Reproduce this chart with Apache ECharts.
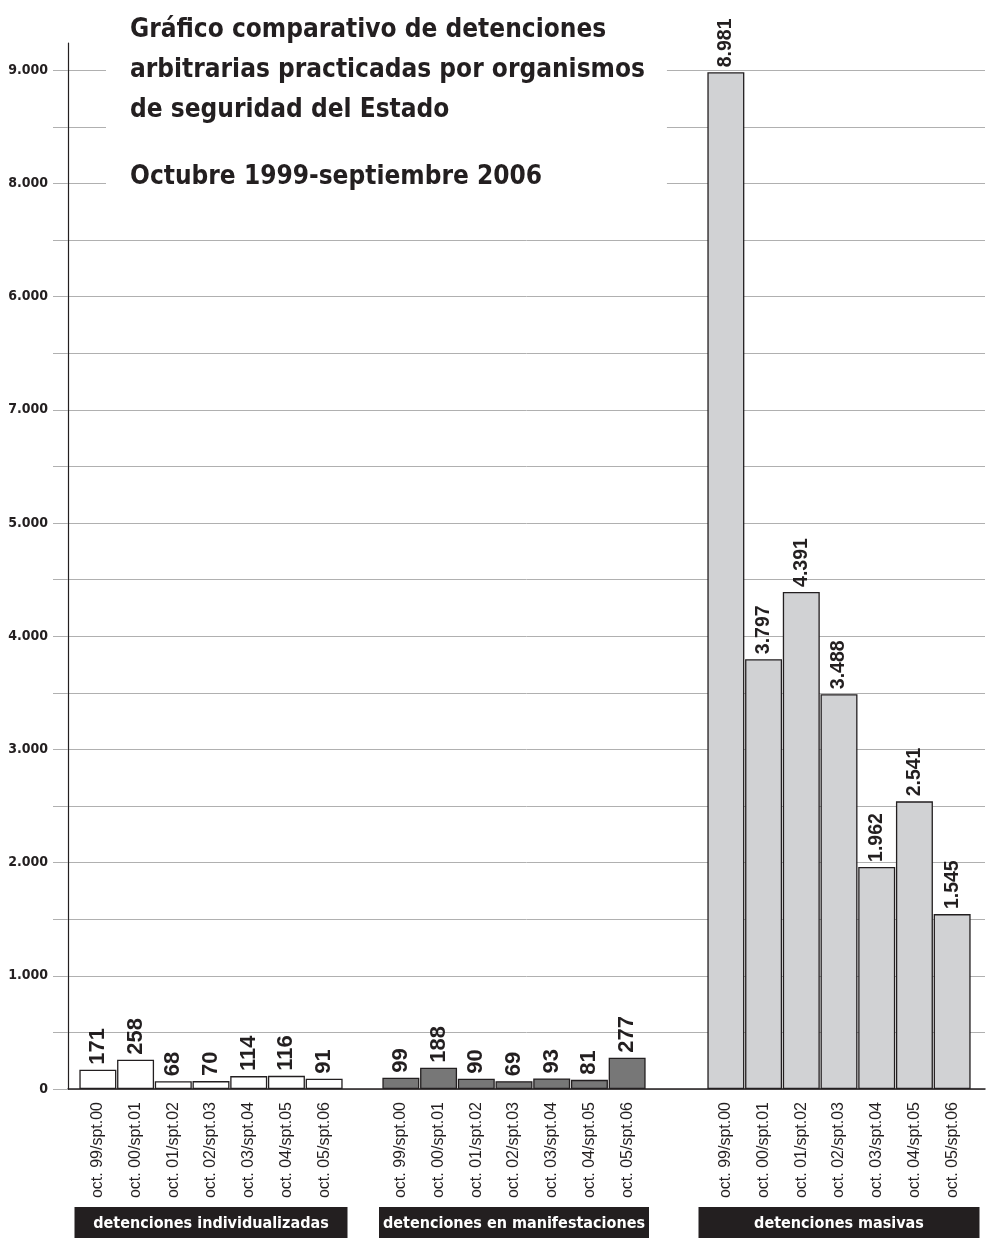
<!DOCTYPE html>
<html>
<head>
<meta charset="utf-8">
<script src="https://cdn.jsdelivr.net/npm/echarts@6/dist/echarts.min.js"></script>
<style>
html,body{margin:0;padding:0;background:#fff;}
#chart{width:987px;height:1238px;}
</style>
</head>
<body>
<div id="chart"></div>
<script>
// ---- data ----
const categories = ['oct. 99/spt.00','oct. 00/spt.01','oct. 01/spt.02','oct. 02/spt.03','oct. 03/spt.04','oct. 04/spt.05','oct. 05/spt.06'];
const individualizadas = [171, 258, 68, 70, 114, 116, 91];
const manifestaciones = [99, 188, 90, 69, 93, 81, 277];
const masivas = [8981, 3797, 4391, 3488, 1962, 2541, 1545];
const groupNames = ['detenciones individualizadas', 'detenciones en manifestaciones', 'detenciones masivas'];
const yTickLabels = ['0', '1.000', '2.000', '3.000', '4.000', '5.000', '7.000', '6.000', '8.000', '9.000'];
const titleLines = ['Gráfico comparativo de detenciones', 'arbitrarias practicadas por organismos', 'de seguridad del Estado'];
const subtitle = 'Octubre 1999-septiembre 2006';

// ---- styling ----
const NARROW = '"DejaVu Sans Condensed", "Liberation Sans Narrow", sans-serif';
const SANS = '"Liberation Sans", Arial, sans-serif';
const INK = '#231f20';
const GRID_GRAY = '#b0b0b0';
const Y_MAX = 9240;
const TOP = 43, BOTTOM = 149;
const groupLefts = [79, 382, 707];
const groupWidth = 264;
const bandWidths = [273, 270, 281];
const groupColors = ['#ffffff', '#777777', '#d1d2d4'];
const seriesData = [individualizadas, manifestaciones, masivas];
const BAND_FONT = 16;

function fmt(v) {
  return String(v).replace(/\B(?=(\d{3})+(?!\d))/g, '.');
}
const measureCtx = document.createElement('canvas').getContext('2d');
function textWidth(t, font) {
  measureCtx.font = font;
  return measureCtx.measureText(t).width;
}

const tickVals = [];
for (let v = 0; v <= 9000; v += 500) tickVals.push(v);
// split line colours: one per tick line (0..9000), the extent line at the top stays invisible
const splitColors = tickVals.map(() => GRID_GRAY).concat(['rgba(0,0,0,0)']);

const grids = [{left: 68, right: 2, top: TOP, bottom: BOTTOM, outerBoundsMode: 'none', containLabel: false}];
const xAxes = [{
  type: 'value', gridIndex: 0, min: 0, max: 1,
  axisLine: {show: true, lineStyle: {color: INK, width: 1.5}},
  axisTick: {show: false}, axisLabel: {show: false}, splitLine: {show: false}
}];
const yAxes = [{
  type: 'value', gridIndex: 0, min: 0, max: Y_MAX, interval: 500,
  axisLine: {show: true, lineStyle: {color: INK, width: 1.2}},
  axisTick: {show: true, length: 15, customValues: tickVals, lineStyle: {color: GRID_GRAY, width: 1}},
  axisLabel: {
    margin: 20, color: INK, fontFamily: NARROW, fontWeight: 'bold', fontSize: 14,
    showMaxLabel: false,
    formatter: v => (v % 1000 === 0 ? yTickLabels[v / 1000] : '')
  },
  splitLine: {show: true, showMaxLine: true, lineStyle: {color: splitColors, width: 1}}
}];
const series = [];

groupNames.forEach((name, i) => {
  const gi = i + 1;
  grids.push({left: groupLefts[i], width: groupWidth, top: TOP, bottom: BOTTOM, outerBoundsMode: 'none', containLabel: false});
  const tw = textWidth(name, 'bold ' + BAND_FONT + 'px ' + NARROW);
  const padH = Math.max(2, (bandWidths[i] - tw) / 2);
  xAxes.push({
    type: 'category', gridIndex: gi, data: categories,
    axisLine: {show: false}, axisTick: {show: false},
    axisLabel: {rotate: 90, margin: 13, color: INK, fontFamily: SANS, fontSize: 16, interval: 0},
    name: name, nameLocation: 'middle', nameGap: 118,
    nameTextStyle: {
      color: '#fff', backgroundColor: INK, fontFamily: NARROW, fontWeight: 'bold', fontSize: BAND_FONT,
      align: 'center', lineHeight: 20, padding: [7, padH, 8, padH]
    }
  });
  yAxes.push({
    type: 'value', gridIndex: gi, min: 0, max: Y_MAX, interval: 500, show: false,
    splitLine: {show: false}
  });
  const big = i === 2;
  series.push({
    type: 'bar', xAxisIndex: gi, yAxisIndex: gi, data: seriesData[i],
    barCategoryGap: '2%',
    itemStyle: {color: groupColors[i], borderColor: INK, borderWidth: 1.3},
    label: {
      show: true, position: 'top', rotate: 90, align: 'left', verticalAlign: 'middle', distance: 5,
      color: INK, fontWeight: 'bold',
      fontFamily: SANS, fontSize: big ? 19.5 : 22,
      formatter: p => fmt(p.value)
    },
    silent: true, animation: false
  });
});

const chart = echarts.init(document.getElementById('chart'), null, {renderer: 'canvas'});
chart.setOption({
  backgroundColor: '#fff',
  animation: false,
  title: {
    text: titleLines.join('\n'),
    subtext: subtitle,
    left: 106, top: 0,
    padding: [10, 22, 20, 24],
    backgroundColor: '#fff',
    itemGap: 27,
    textStyle: {fontFamily: NARROW, fontWeight: 'bold', fontSize: 26, lineHeight: 40, color: INK},
    subtextStyle: {fontFamily: NARROW, fontWeight: 'bold', fontSize: 26, lineHeight: 40, color: INK}
  },
  grid: grids,
  xAxis: xAxes,
  yAxis: yAxes,
  series: series
});
</script>
</body>
</html>
